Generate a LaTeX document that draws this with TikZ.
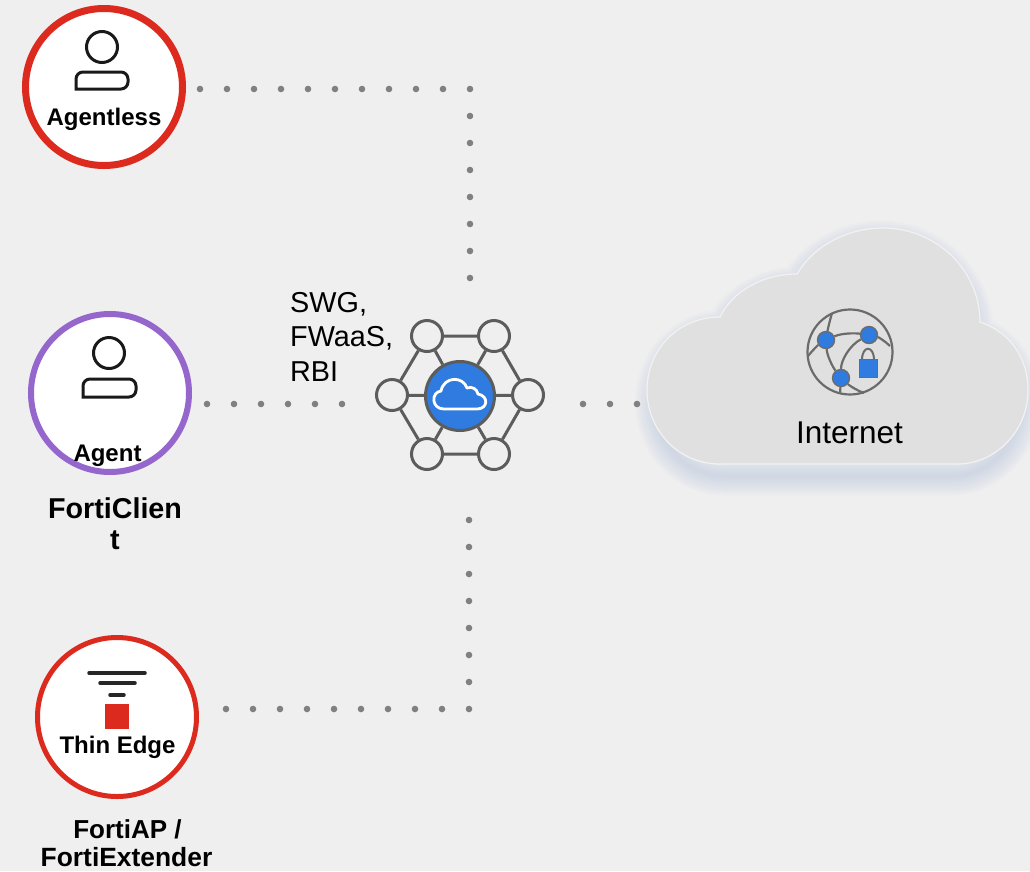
\documentclass[tikz,border=0pt]{standalone}
\usepackage{fontspec}
\setmainfont{Liberation Sans}
\usetikzlibrary{positioning}

\definecolor{pagegray}{HTML}{EFEFEF}
\definecolor{cloudgray}{HTML}{E0E0E0}
\definecolor{ringred}{HTML}{DD2A1E}
\definecolor{ringpurple}{HTML}{9566CC}
\definecolor{hubgray}{HTML}{5C5C5C}
\definecolor{hubblue}{HTML}{2F7BE0}
\definecolor{dotgray}{HTML}{808080}
\definecolor{shadowblue}{HTML}{AEBFDB}

\newcommand{\cloudoutline}{(720,464) .. controls (678,464) and (647,430) .. (647,390)
 .. controls (647,350) and (678,317) .. (720,317)
 .. controls (732,292) and (762,274) .. (797,274)
 .. controls (812,248) and (845,228) .. (883,228)
 .. controls (936,228) and (980,270) .. (980,322)
 .. controls (1010,332) and (1028,358) .. (1028,390)
 .. controls (1028,432) and (995,464) .. (957,464) -- cycle}

\tikzset{
  ring/.style={circle,draw,fill=white,inner sep=0pt},
  person/.style={draw=black!90,line width=3pt,rounded corners=7pt},
  dotline/.style={dotgray,line width=6.6pt,line cap=round,dash pattern=on 0pt off 27pt},
  ringlabel/.style={anchor=base,inner sep=0pt,font=\bfseries\fontsize{24}{28}\selectfont},
  satellite/.style={circle,draw=hubgray,line width=3pt,inner sep=0pt,minimum size=31pt},
  hubline/.style={hubgray,line width=3pt},
  globeline/.style={draw=black!58,line width=2.2pt},
  globedot/.style={circle,draw=black!58,fill=hubblue,line width=1.4pt,inner sep=0pt,minimum size=17pt},
}

\begin{document}
\begin{tikzpicture}[x=1pt,y=-1pt]
 \useasboundingbox (0,0) rectangle (1030,871);
 \fill[pagegray] (0,0) rectangle (1030,871);

 % cloud
 \foreach \w in {3,7,...,39}
   \draw[shadowblue,draw opacity=0.05,line width=\w pt,xshift=33.5pt,xscale=0.96,yshift=-12pt] \cloudoutline;
 \draw[fill=cloudgray,draw=pagegray!80!white,line width=1.2pt] \cloudoutline;
 \node[inner sep=0pt,anchor=base,font=\fontsize{31.5}{36}\selectfont] (internet) at (849.5,443) {Internet};

 % globe
 \node[circle,globeline,inner sep=0pt,minimum size=85pt] (globe) at (850,352) {};
 \node[globedot] (globea) at (826,340) {};
 \node[globedot] (globeb) at (869,335) {};
 \node[globedot] (globec) at (841,378) {};
 \draw[globeline] (globea) .. controls (842,333) and (855,333) .. (globeb);
 \draw[globeline] (globea) .. controls (827,355) and (832,366) .. (globec);
 \draw[globeline] (globeb) .. controls (850,345) and (841,360) .. (globec);
 \draw[globeline] (globea) .. controls (828,328) and (830,320) .. (832,313);
 \draw[globeline] (globea) .. controls (818,345) and (812,351) .. (808,356);
 \draw[globeline] (globeb) .. controls (878,337) and (885,341) .. (890,346);
 \draw[globeline] (globec) -- (840,394);
 \draw[globeline] (globec) .. controls (850,386) and (858,391) .. (864,393);
 \draw[black!58,line width=2pt] (862,360) .. controls (862,345) and (874,345) .. (874,360);
 \node[draw=black!58,fill=hubblue,line width=1pt,inner sep=0pt,minimum width=18pt,minimum height=18pt] (lock) at (868,368) {};

 % rings
 \node[ring,draw=ringred,line width=7pt,minimum size=157pt] (agentless) at (104,87) {};
 \node[ring,draw=ringpurple,line width=6pt,minimum size=158pt] (agent) at (110,393) {};
 \node[ring,draw=ringred,line width=5pt,minimum size=159pt] (thinedge) at (117,717) {};

 % person icons
 \draw[person] (102,47) circle [radius=15.5pt];
 \draw[person] (76,89) -- (76,72) -- (128,72) -- (128,89) [sharp corners] -- cycle;
 \draw[person] (109,353) circle [radius=15.5pt];
 \draw[person] (83,397) -- (83,379) -- (136,379) -- (136,397) [sharp corners] -- cycle;

 % thin edge icon
 \draw[black!85,line width=3.5pt,line cap=round] (89,673) -- (145,673);
 \draw[black!85,line width=3.5pt,line cap=round] (100,683) -- (135,683);
 \draw[black!85,line width=3.5pt,line cap=round] (110,695) -- (124,695);
 \fill[ringred] (105,704) rectangle (129,729);

 % ring labels
 \node[ringlabel] (agentlesstext) at (104,125) {Agentless};
 \node[ringlabel] (agenttext) at (107.5,461) {Agent};
 \node[ringlabel] (thinedgetext) at (117.5,753) {Thin Edge};
 \node[anchor=base,inner sep=0pt,font=\bfseries\fontsize{28.7}{31}\selectfont] (fortic) at (115,518) {FortiClien};
 \node[anchor=base,inner sep=0pt,font=\bfseries\fontsize{28.7}{31}\selectfont] (forticb) at (115,549) {t};
 \node[anchor=base,inner sep=0pt,font=\bfseries\fontsize{26}{28}\selectfont] (fortiap) at (127.5,838) {FortiAP /};
 \node[anchor=base,inner sep=0pt,font=\bfseries\fontsize{26.4}{28}\selectfont] (fortiext) at (126.5,866) {FortiExtender};

 % hub
 \node[circle,draw=hubgray,fill=hubblue,line width=3pt,inner sep=0pt,minimum size=69pt] (hub) at (460,396) {};
 \node[satellite] (hubnw) at (427,336) {};
 \node[satellite] (hubne) at (494,336) {};
 \node[satellite] (hubw) at (392,395) {};
 \node[satellite] (hube) at (528,395) {};
 \node[satellite] (hubsw) at (427,454) {};
 \node[satellite] (hubse) at (494,454) {};
 \foreach \s in {hubnw,hubne,hube,hubse,hubsw,hubw}
   \draw[hubline] (hub) -- (\s);
 \draw[hubline] (hubnw) -- (hubne) -- (hube) -- (hubse) -- (hubsw) -- (hubw) -- (hubnw);
 \draw[white,line width=2.8pt,line join=round] (444,409) .. controls (431,409) and (431,392) .. (441,391)
   .. controls (444,376) and (463,376) .. (467,388)
   .. controls (472,386) and (477,389) .. (478,394)
   .. controls (489,396) and (488,409) .. (477,409) -- cycle;

 \node[anchor=north west,align=left,inner sep=0pt,font=\fontsize{28.8}{34.5}\selectfont] (services) at (290,292) {SWG,\\FWaaS,\\RBI};

 % dotted links
 \coordinate (topstart) at (200,89);
 \coordinate (topbend) at (470,89);
 \coordinate (topend) at (470,280);
 \coordinate (midstart) at (207,404);
 \coordinate (midend) at (343,404);
 \coordinate (cloudstart) at (583,404);
 \coordinate (cloudend) at (639,404);
 \coordinate (lowstart) at (226,709);
 \coordinate (lowbend) at (469,709);
 \coordinate (lowend) at (469,518);
 \draw[dotline] (topstart) -- (topbend) -- (topend);
 \draw[dotline] (midstart) -- (midend);
 \draw[dotline] (cloudstart) -- (cloudend);
 \draw[dotline] (lowstart) -- (lowbend) -- (lowend);
\end{tikzpicture}
\end{document}
